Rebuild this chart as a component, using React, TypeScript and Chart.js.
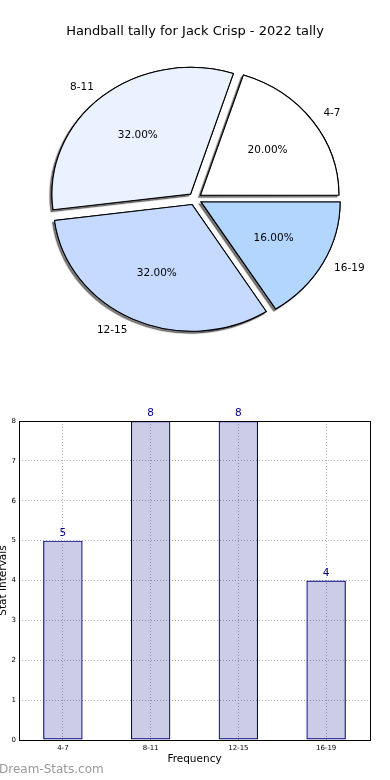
import React, { useEffect, useRef } from 'react';
import { Chart, registerables } from 'chart.js';

Chart.register(...registerables);

// ---- data ----
const TITLE = 'Handball tally for Jack Crisp - 2022 tally';
const categories = ['4-7', '8-11', '12-15', '16-19'];
const counts = [5, 8, 8, 4];
const sliceColors = ['#ffffff', '#eaf1ff', '#c6d9ff', '#b3d6ff'];
const X_TITLE = 'Frequency';
const Y_TITLE = 'Stat Intervals';
const WATERMARK = 'Dream-Stats.com';

const FONT = "'DejaVu Sans', sans-serif";
const PIE_R = 126;
const SX = 138 / PIE_R; // horizontal stretch of the pie (elliptical like the reference)

const pieStretch = {
  id: 'pieStretch',
  beforeDatasetsDraw(chart: any) {
    const meta = chart.getDatasetMeta(0);
    const arc = meta.data[0];
    const ctx = chart.ctx;
    ctx.save();
    ctx.translate(arc.x, arc.y);
    ctx.scale(SX, 1);
    ctx.translate(-arc.x, -arc.y);
    // shadow pass
    ctx.save();
    ctx.shadowColor = 'rgba(0,0,0,0.5)';
    ctx.shadowOffsetX = -2;
    ctx.shadowOffsetY = 2;
    ctx.shadowBlur = 1;
    meta.data.forEach((a: any) => a.draw(ctx));
    ctx.restore();
  },
  afterDatasetsDraw(chart: any) {
    chart.ctx.restore();
  },
};

const makePieLabels = (labels: string[], values: number[]) => ({
  id: 'pieLabels',
  afterDraw(chart: any) {
    const ctx = chart.ctx;
    const meta = chart.getDatasetMeta(0);
    const total = values.reduce((a, b) => a + b, 0);
    ctx.save();
    ctx.font = `10.5px ${FONT}`;
    ctx.fillStyle = '#000';
    ctx.textBaseline = 'middle';
    meta.data.forEach((arc: any, i: number) => {
      const mid = (arc.startAngle + arc.endAngle) / 2;
      const off = (arc.options.offset || 0) / 4;
      const c = Math.cos(mid);
      const s = Math.sin(mid);
      const rl = arc.outerRadius * 1.1 + off;
      ctx.textAlign = c >= 0 ? 'left' : 'right';
      ctx.fillText(labels[i], arc.x + SX * rl * c, arc.y + rl * s);
      const rp = arc.outerRadius * 0.6 + off;
      ctx.textAlign = 'center';
      ctx.fillText(((values[i] / total) * 100).toFixed(2) + '%', arc.x + SX * rp * c, arc.y + rp * s);
    });
    ctx.restore();
  },
});

const barExtras = {
  id: 'barExtras',
  afterDatasetsDraw(chart: any) {
    const ctx = chart.ctx;
    const { left, right, top, bottom } = chart.chartArea;
    ctx.save();
    ctx.strokeStyle = '#000';
    ctx.lineWidth = 1;
    ctx.setLineDash([]);
    ctx.strokeRect(Math.round(left) + 0.5, Math.round(top) + 0.5, Math.round(right) - Math.round(left), Math.round(bottom) - Math.round(top));
    const meta = chart.getDatasetMeta(0);
    ctx.font = `10.5px ${FONT}`;
    ctx.fillStyle = '#000080';
    ctx.textAlign = 'center';
    ctx.textBaseline = 'bottom';
    meta.data.forEach((bar: any, i: number) => {
      ctx.fillText(String(counts[i]), bar.x, bar.y - 2);
    });
    ctx.font = `12px ${FONT}`;
    ctx.fillStyle = '#999999';
    ctx.textAlign = 'left';
    ctx.textBaseline = 'middle';
    ctx.fillText(WATERMARK, -1, chart.height - 10);
    ctx.restore();
  },
};

export default function App() {
  const pieRef = useRef<HTMLCanvasElement>(null);
  const barRef = useRef<HTMLCanvasElement>(null);

  useEffect(() => {
    const pieLabels = [...categories].reverse();
    const pieValues = [...counts].reverse();
    const pieColors = [...sliceColors].reverse();

    const pie = new Chart(pieRef.current as HTMLCanvasElement, {
      type: 'pie',
      data: {
        labels: pieLabels,
        datasets: [
          {
            data: pieValues,
            backgroundColor: pieColors,
            borderColor: '#000',
            borderWidth: 1,
            offset: 25.2,
            borderJoinStyle: 'miter',
            clip: false,
          } as any,
        ],
      },
      options: {
        responsive: false,
        animation: false,
        devicePixelRatio: 1,
        events: [],
        rotation: 90,
        radius: PIE_R,
        layout: { padding: { top: 0, bottom: 31.4, left: 0, right: 0 } },
        plugins: {
          legend: { display: false },
          tooltip: { enabled: false },
          title: {
            display: true,
            text: TITLE,
            color: '#000',
            font: { family: FONT, size: 13, weight: 'normal', lineHeight: 1.2 },
            padding: { top: 23.5, bottom: 10 },
          },
        },
      } as any,
      plugins: [pieStretch, makePieLabels(pieLabels, pieValues)],
    });

    const gridColor = '#b0b0b0';
    const bar = new Chart(barRef.current as HTMLCanvasElement, {
      type: 'bar',
      data: {
        labels: categories,
        datasets: [
          {
            data: counts,
            backgroundColor: 'rgba(0,0,128,0.2)',
            borderColor: '#000080',
            borderWidth: 1.2,
            borderSkipped: false,
            barPercentage: 0.45,
            categoryPercentage: 1,
          },
        ],
      },
      options: {
        responsive: false,
        animation: false,
        devicePixelRatio: 1,
        events: [],
        layout: { padding: { top: 41, right: 20, left: 0, bottom: 0 } },
        plugins: { legend: { display: false }, tooltip: { enabled: false } },
        scales: {
          x: {
            grid: { offset: false, color: gridColor, lineWidth: 1, drawTicks: false },
            border: { display: false, dash: [1, 2] },
            ticks: { font: { family: FONT, size: 7 }, color: '#000', padding: 4, maxRotation: 0 },
            title: {
              display: true,
              text: X_TITLE,
              color: '#000',
              font: { family: FONT, size: 10.5 },
              padding: { top: 0, bottom: 14 },
            },
            afterFit(scale: any) {
              scale.height = 40;
            },
          },
          y: {
            min: 0,
            max: 8,
            grid: { color: gridColor, lineWidth: 1, drawTicks: false },
            border: { display: false, dash: [1, 2] },
            ticks: { stepSize: 1, font: { family: FONT, size: 7 }, color: '#000', padding: 3 },
            title: {
              display: true,
              text: Y_TITLE,
              color: '#000',
              font: { family: FONT, size: 10.5 },
              padding: { top: -3, bottom: 0 },
            },
            afterFit(scale: any) {
              scale.width = 19;
            },
          },
        },
      } as any,
      plugins: [barExtras],
    });

    return () => {
      pie.destroy();
      bar.destroy();
    };
  }, []);

  return (
    <div style={{ position: 'absolute', left: 0, top: 0, width: 390, height: 780, background: '#fff' }}>
      <canvas ref={pieRef} width={390} height={380} style={{ display: 'block', width: 390, height: 380 }} />
      <canvas ref={barRef} width={390} height={400} style={{ display: 'block', width: 390, height: 400 }} />
    </div>
  );
}
